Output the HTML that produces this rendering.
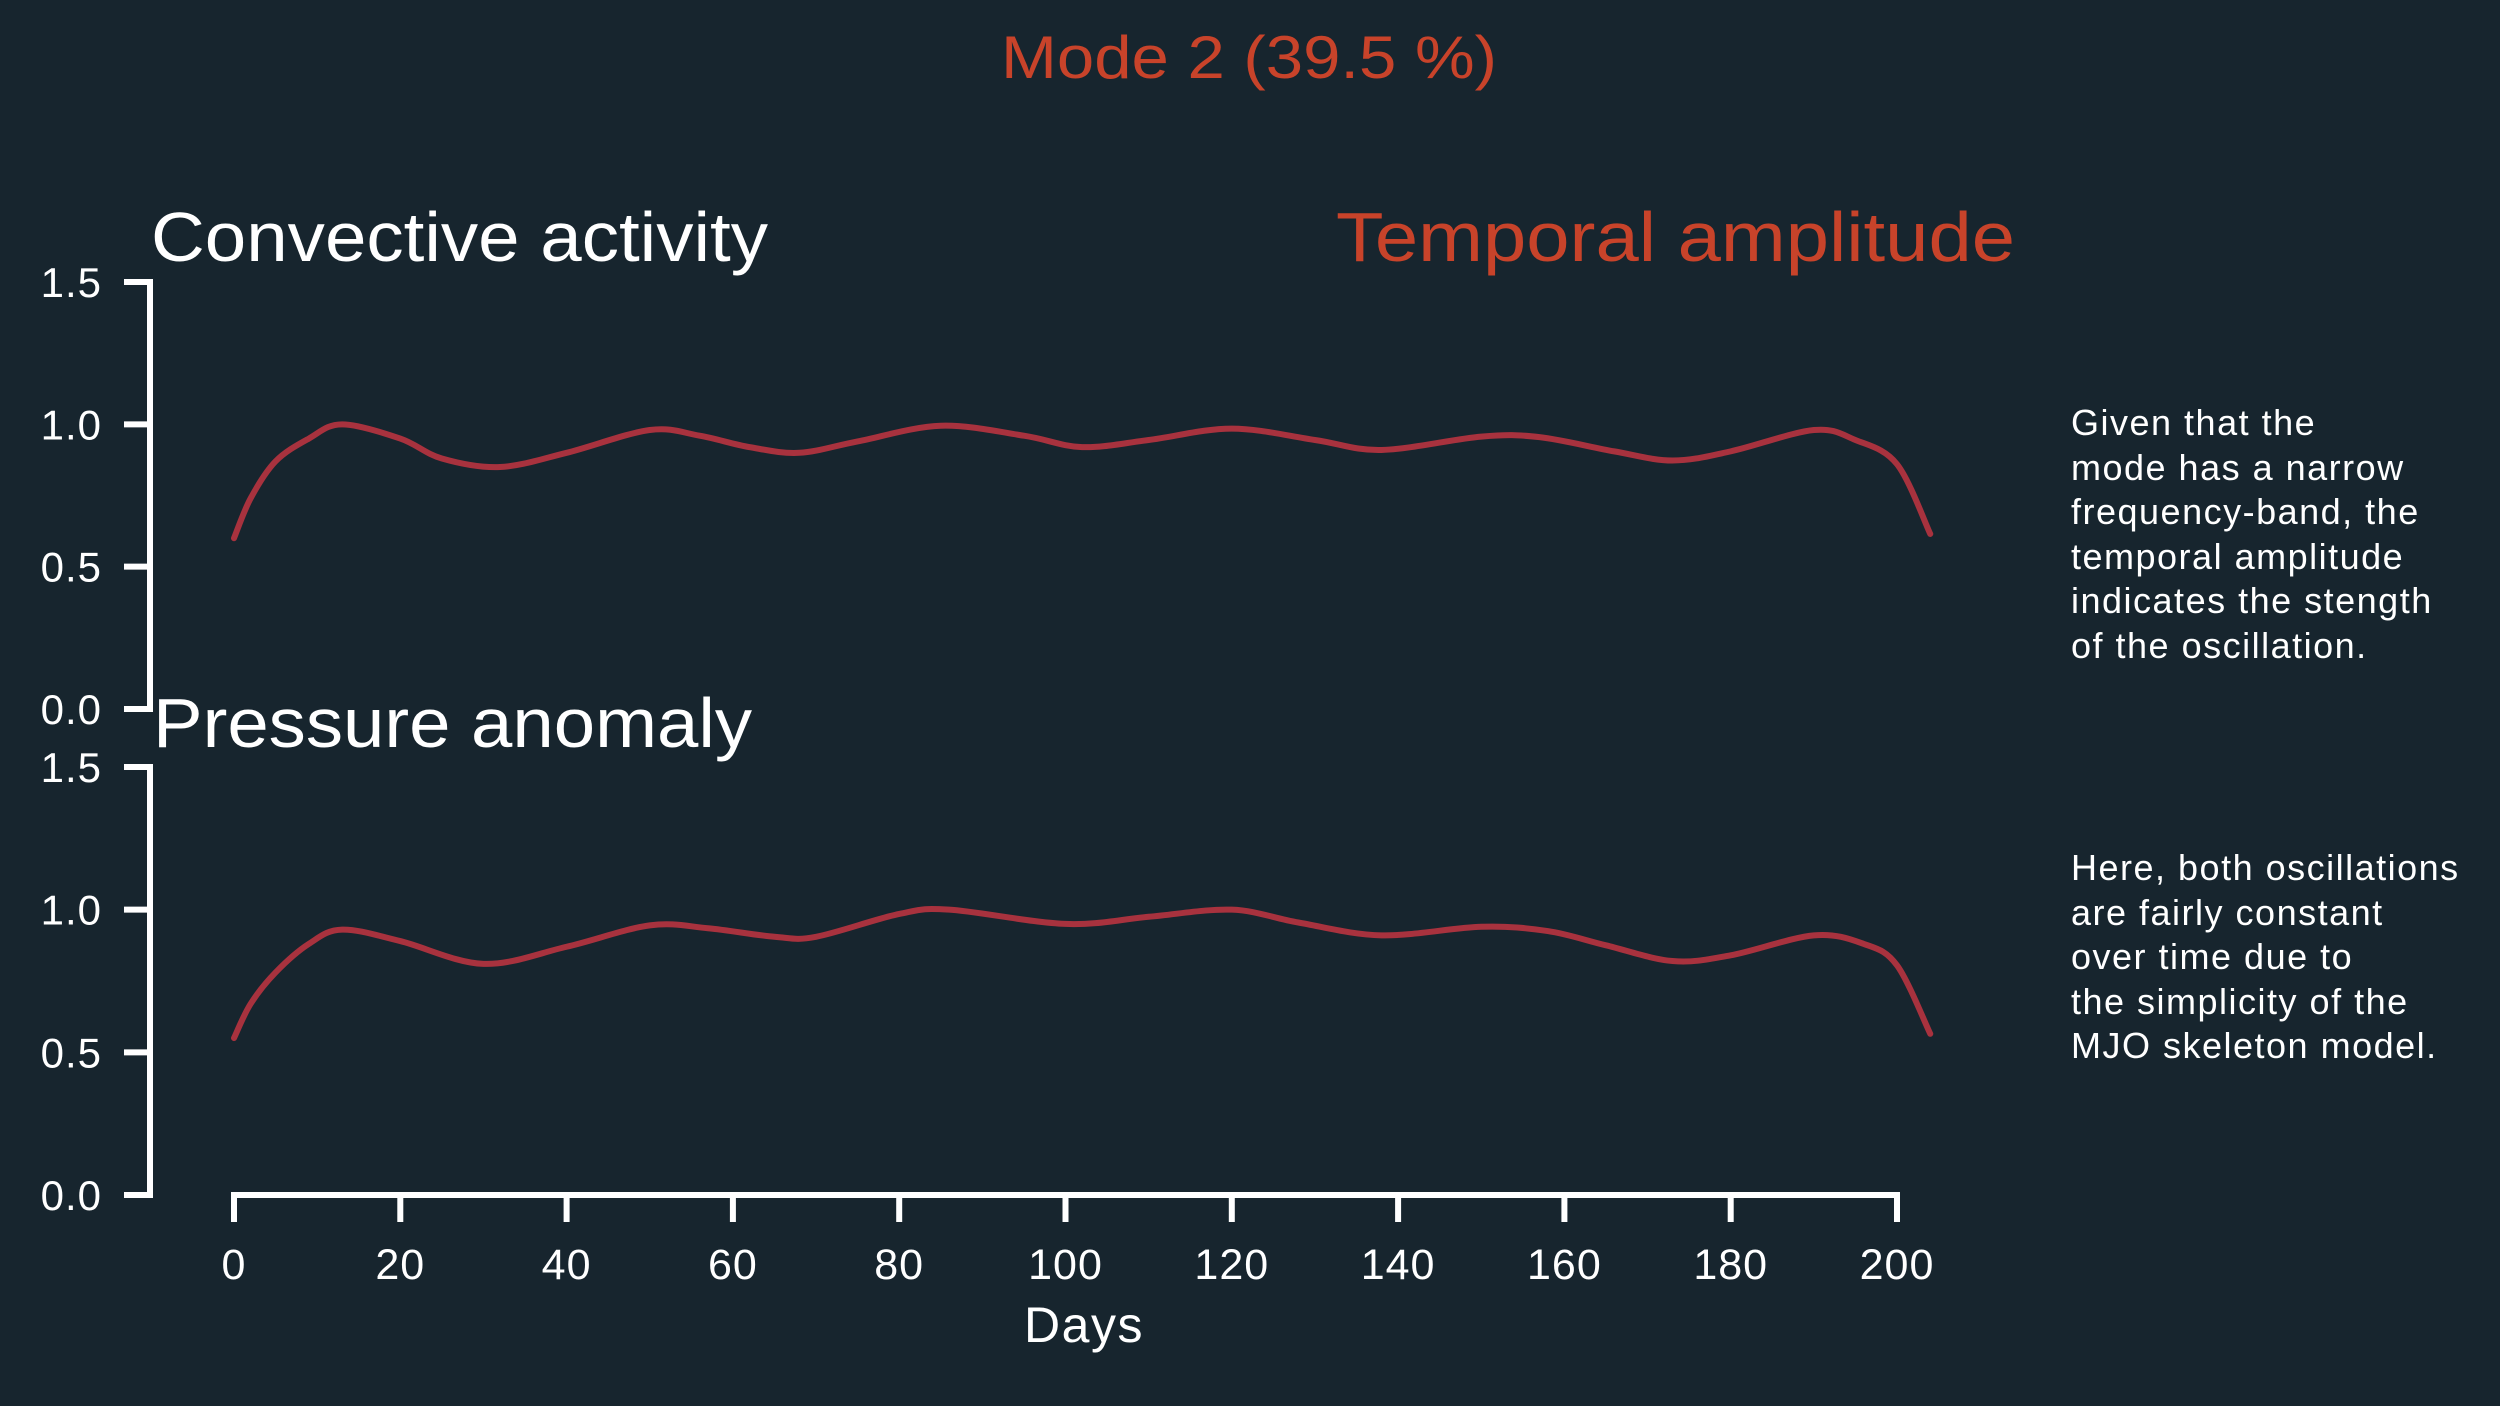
<!DOCTYPE html>
<html><head><meta charset="utf-8"><style>
html,body{margin:0;padding:0;background:#17252e;}
svg{display:block;font-family:"Liberation Sans",sans-serif;}
</style></head><body>
<svg id="chart" width="2500" height="1406" viewBox="0 0 2500 1406" xmlns="http://www.w3.org/2000/svg">
<rect width="2500" height="1406" fill="#17252e"/>
<text x="1001" y="78" fill="#c8432a" font-size="60" textLength="496" lengthAdjust="spacingAndGlyphs">Mode 2 (39.5 %)</text>
<text x="151" y="261" fill="#ffffff" font-size="70" textLength="617" lengthAdjust="spacingAndGlyphs">Convective activity</text>
<text x="1336" y="261" fill="#c8432a" font-size="70" textLength="679" lengthAdjust="spacingAndGlyphs">Temporal amplitude</text>
<text x="153" y="747" fill="#ffffff" font-size="70" textLength="599" lengthAdjust="spacingAndGlyphs">Pressure anomaly</text>
<g fill="#ffffff" font-size="36" letter-spacing="1.5">
<text x="2071" y="435">Given that the</text>
<text x="2071" y="480">mode has a narrow</text>
<text x="2071" y="524">frequency-band, the</text>
<text x="2071" y="569">temporal amplitude</text>
<text x="2071" y="613">indicates the stength</text>
<text x="2071" y="658">of the oscillation.</text>
</g>
<g fill="#ffffff" font-size="36" letter-spacing="1.5">
<text x="2071" y="880">Here, both oscillations</text>
<text x="2071" y="925">are fairly constant</text>
<text x="2071" y="969">over time due to</text>
<text x="2071" y="1014">the simplicity of the</text>
<text x="2071" y="1058">MJO skeleton model.</text>
</g>
<text x="1084" y="1342" fill="#ffffff" font-size="50" letter-spacing="1.5" text-anchor="middle">Days</text>
<g id="plot"></g>
</svg>
<script>
const days = [0,2,5,9,13,20,25,32,40,50,56,62,68,75,85,95,102,110,120,130,138,150,157,166,173,180,190,195,200,204];
const convective = [0.60,0.74,0.87,0.95,1.0,0.95,0.88,0.85,0.90,0.98,0.96,0.92,0.90,0.94,0.995,0.96,0.92,0.945,0.985,0.945,0.91,0.957,0.955,0.905,0.873,0.905,0.98,0.945,0.86,0.615];
const daysP = [0,2,5,9,13,20,30,40,50,57,65,70,80,86,100,110,120,128,138,150,158,165,173,180,190,196,200,204];
const pressure = [0.55,0.67,0.78,0.88,0.93,0.89,0.81,0.87,0.945,0.935,0.905,0.905,0.985,1.0,0.95,0.975,1.0,0.955,0.91,0.94,0.925,0.875,0.82,0.84,0.91,0.88,0.805,0.565];
const yTicks = [0,0.5,1.0,1.5];
const xTicks = [0,20,40,60,80,100,120,140,160,180,200];

const NS="http://www.w3.org/2000/svg";
const g=document.getElementById('plot');
const xs=d=>234+(d/200)*1663;
function mk(tag,attrs,parent){const e=document.createElementNS(NS,tag);for(const k in attrs)e.setAttribute(k,attrs[k]);(parent||g).appendChild(e);return e;}
function panel(top,bottom,xv,yv,name){
  const ys=v=>bottom-(v/1.5)*(bottom-top);
  const sp=mk('line',{x1:150,x2:150,y1:ys(1.5)-3,y2:ys(0)+3,stroke:'#fff','stroke-width':6});
  
  
  yTicks.forEach(t=>{
    const l=mk('line',{x1:124,x2:153,y1:ys(t),y2:ys(t),stroke:'#fff','stroke-width':6});
    
    
    const tx=mk('text',{x:102,y:ys(t)+15,fill:'#fff','font-size':42,'letter-spacing':1,'text-anchor':'end'});
    tx.textContent=t.toFixed(1);
    
    
  });
  const pts=xv.map((d,i)=>[xs(d),ys(yv[i])]);
  let p='M'+pts[0][0]+','+pts[0][1];
  for(let i=0;i<pts.length-1;i++){
    const p0=pts[Math.max(0,i-1)],p1=pts[i],p2=pts[i+1],p3=pts[Math.min(pts.length-1,i+2)];
    const c1=[p1[0]+(p2[0]-p0[0])/6,p1[1]+(p2[1]-p0[1])/6];
    const c2=[p2[0]-(p3[0]-p1[0])/6,p2[1]-(p3[1]-p1[1])/6];
    p+=' C'+c1+' '+c2+' '+p2;
  }
  const line=mk('path',{d:p,fill:'none',stroke:'#a8323e','stroke-width':6,'stroke-linecap':'round','stroke-linejoin':'round'});
  
  
}
panel(282,709,days,convective,'convective');
panel(767,1195,daysP,pressure,'pressure');
const xa=mk('line',{x1:xs(0)-3,x2:xs(200)+3,y1:1195,y2:1195,stroke:'#fff','stroke-width':6});


xTicks.forEach(t=>{
  const l=mk('line',{x1:xs(t),x2:xs(t),y1:1193,y2:1222,stroke:'#fff','stroke-width':6});
  
  
  const tx=mk('text',{x:xs(t),y:1279,fill:'#fff','font-size':43,'letter-spacing':1,'text-anchor':'middle'});
  tx.textContent=t;
  
  
});
</script>
</body></html>
